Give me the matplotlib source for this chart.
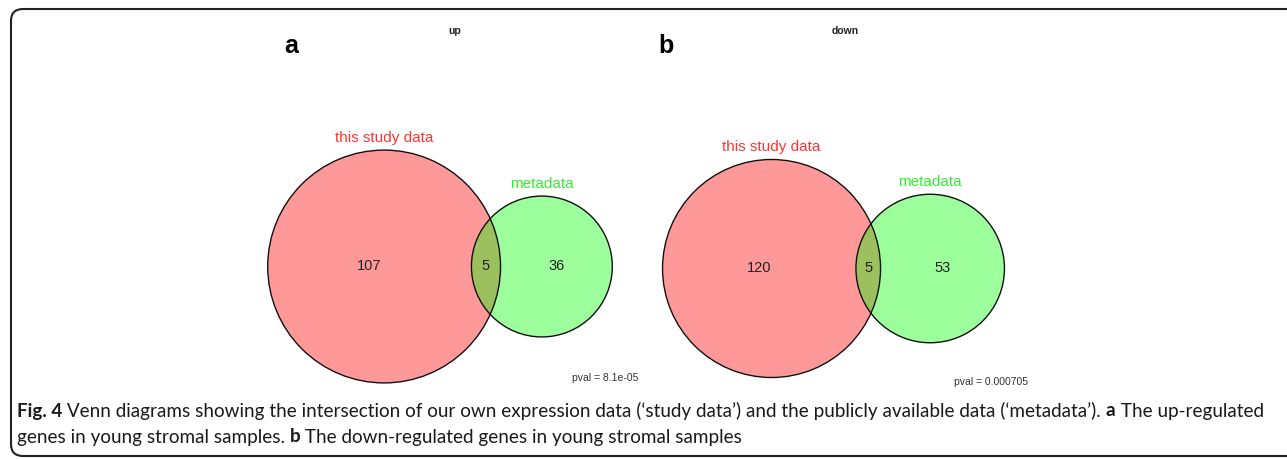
import math
import matplotlib
matplotlib.use("Agg")
import matplotlib.pyplot as plt
from matplotlib.patches import Circle, FancyBboxPatch

# ---- data -------------------------------------------------------------
panel_letters = ["a", "b"]
panel_titles = ["up", "down"]
set_names = ["this study data", "metadata"]
only_study = [107, 120]
shared = [5, 5]
only_meta = [36, 53]
pvals = ["pval = 8.1e-05", "pval = 0.000705"]

caption_parts_1 = [("Fig. 4", "bold"),
                   (" Venn diagrams showing the intersection of our own expression data (\u2018study data\u2019) "
                    "and the publicly available data (\u2018metadata\u2019). ", "normal"),
                   ("a", "bold"),
                   (" The up-regulated", "normal")]
caption_parts_2 = [("genes in young stromal samples. ", "normal"),
                   ("b", "bold"),
                   (" The down-regulated genes in young stromal samples", "normal")]

# ---- layout (pixel coordinates) ----------------------------------------
W, H = 1287, 459
panel_mid = [440.0, 833.5]      # horizontal middle of each diagram
panel_cy = [266.5, 268.5]
panel_scale = [11.0, 9.75]      # pixels per sqrt(count)
letter_xy = [(291, 46), (666, 46)]
title_xy = [(455, 31), (845, 31)]
pval_xy = [(638, 378), (1028, 382)]

RED_FILL = (1.0, 0.0, 0.0, 0.40)
GREEN_FILL = (0.0, 1.0, 0.0, 0.39)
RED_TXT = "#ff3333"
GREEN_TXT = "#33ee33"
VENN_FONT = "Liberation Sans"

fig = plt.figure(figsize=(W / 100, H / 100), dpi=100)
ax = fig.add_axes([0, 0, 1, 1])
ax.set_xlim(0, W)
ax.set_ylim(H, 0)
ax.axis("off")


def lens_area(d, r1, r2):
    if d >= r1 + r2:
        return 0.0
    if d <= abs(r1 - r2):
        return math.pi * min(r1, r2) ** 2
    a1 = math.acos((d * d + r1 * r1 - r2 * r2) / (2 * d * r1))
    a2 = math.acos((d * d + r2 * r2 - r1 * r1) / (2 * d * r2))
    k = 0.5 * math.sqrt((-d + r1 + r2) * (d + r1 - r2) * (d - r1 + r2) * (d + r1 + r2))
    return r1 * r1 * a1 + r2 * r2 * a2 - k


def center_distance(r1, r2, target):
    lo, hi = abs(r1 - r2) + 1e-9, r1 + r2
    for _ in range(80):
        mid = 0.5 * (lo + hi)
        if lens_area(mid, r1, r2) > target:
            lo = mid
        else:
            hi = mid
    return 0.5 * (lo + hi)


for i in range(2):
    s = panel_scale[i]
    n1 = only_study[i] + shared[i]
    n2 = only_meta[i] + shared[i]
    r1 = s * math.sqrt(n1)
    r2 = s * math.sqrt(n2)
    d = center_distance(r1, r2, math.pi * s * s * shared[i])
    left = panel_mid[i] - (r1 + d + r2) / 2
    x1 = left + r1
    x2 = x1 + d
    cy = panel_cy[i]

    ax.add_patch(Circle((x1, cy), r1, facecolor=RED_FILL, edgecolor="none"))
    ax.add_patch(Circle((x2, cy), r2, facecolor=GREEN_FILL, edgecolor="none"))
    for xc, r in ((x1, r1), (x2, r2)):
        ax.add_patch(Circle((xc, cy), r, facecolor="none", edgecolor="#111111", linewidth=1.0))

    num_kw = dict(ha="center", va="center", fontsize=10.5, color="#222222", family=VENN_FONT)
    ax.text(((x1 - r1) + (x2 - r2)) / 2, cy, str(only_study[i]), **num_kw)
    ax.text(((x2 - r2) + (x1 + r1)) / 2, cy, str(shared[i]), **num_kw)
    ax.text(((x1 + r1) + (x2 + r2)) / 2, cy, str(only_meta[i]), **num_kw)

    ax.text(x1, cy - r1 - 12, set_names[0], ha="center", va="center",
            fontsize=11, color=RED_TXT, family=VENN_FONT)
    ax.text(x2, cy - r2 - 12, set_names[1], ha="center", va="center",
            fontsize=11, color=GREEN_TXT, family=VENN_FONT)

    ax.text(*pval_xy[i], pvals[i], ha="right", va="center", fontsize=7.5,
            color="#333333", family=VENN_FONT)
    ax.text(*title_xy[i], panel_titles[i], ha="center", va="center", fontsize=7.5,
            fontweight="bold", color="#222222", family=VENN_FONT)
    ax.text(*letter_xy[i], panel_letters[i], ha="center", va="center", fontsize=18,
            fontweight="bold", color="black", family=VENN_FONT)

# rounded frame around the figure
frame = FancyBboxPatch((11, 9), 1320, 447, boxstyle="round,pad=0,rounding_size=12",
                       facecolor="none", edgecolor="#222222", linewidth=1.5,
                       clip_on=False)
ax.add_patch(frame)

# caption, built from bold and regular pieces laid side by side
renderer = fig.canvas.get_renderer()
CAP_FONT = "Lato"
x_start, x_end = 17.0, 1265.0


def line_width(parts, size):
    w = 0.0
    for txt, wt in parts:
        t = ax.text(0, 0, txt, fontsize=size, fontweight=wt, family=CAP_FONT)
        bb = t.get_window_extent(renderer)
        w += bb.width
        t.remove()
    return w


cap_size = 11.5
cap_size *= (x_end - x_start) / line_width(caption_parts_1, cap_size)


def draw_line(parts, y):
    x = x_start
    for txt, wt in parts:
        t = ax.text(x, y, txt, fontsize=cap_size, fontweight=wt, family=CAP_FONT,
                    ha="left", va="center", color="#1a1a1a")
        bb = t.get_window_extent(renderer)
        x += bb.width


draw_line(caption_parts_1, 411)
draw_line(caption_parts_2, 437)

fig.savefig("out.png", dpi=100)
